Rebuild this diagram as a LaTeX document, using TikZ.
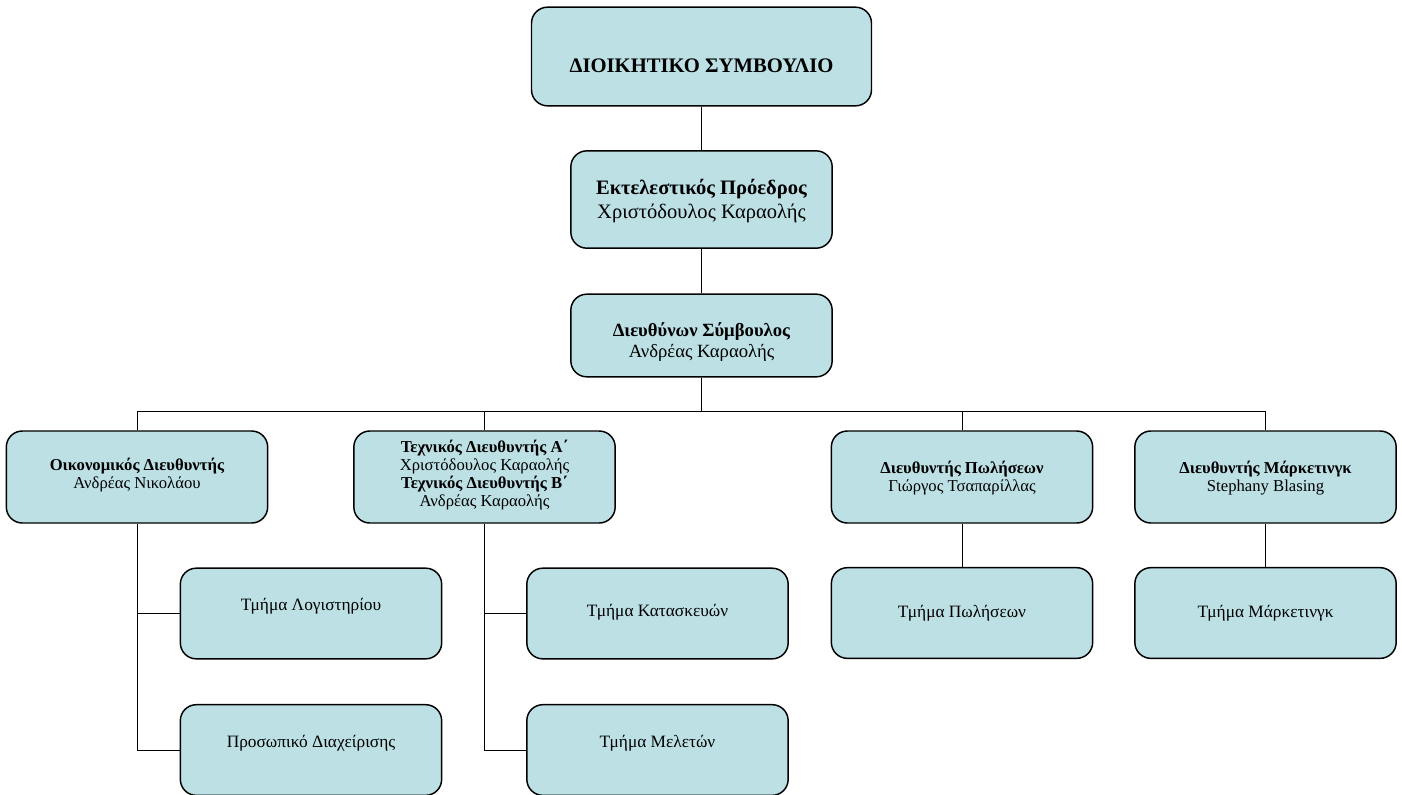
\documentclass[tikz,border=0pt]{standalone}
\usepackage{fontspec}
\setmainfont{Liberation Serif}
\definecolor{boxfill}{RGB}{188,224,228}
\tikzset{
  box/.style={draw=black, line width=1.1pt, fill=boxfill, rounded corners=12pt, inner sep=0pt},
  lvltwo/.style={box, minimum width=196pt, minimum height=69pt},
  subbox/.style={box, minimum width=196pt, minimum height=68pt},
  conn/.style={draw=black, line width=0.65pt},
  txt/.style={align=center, inner sep=0pt, text=black},
  ftop/.style={font=\fontsize{15.5}{18}\selectfont\bfseries},
  fexec/.style={font=\fontsize{15.4}{18}\selectfont},
  fceo/.style={font=\fontsize{14}{15.5}\selectfont},
  fmid/.style={font=\fontsize{12.5}{13.5}\selectfont},
  fsub/.style={font=\fontsize{13}{15}\selectfont},
}
\begin{document}
\begin{tikzpicture}[x=0.75pt, y=-0.75pt]
\useasboundingbox (0,0) rectangle (1402,794);
% boxes
\node[box, minimum width=255pt, minimum height=74pt] (top) at (701.5,56.5) {};
\node[box, minimum width=196pt, minimum height=73pt] (exec) at (701.5,199.5) {};
\node[box, minimum width=196pt, minimum height=62pt] (ceo) at (701.5,335.5) {};
\node[lvltwo] (oik) at (137,477) {};
\node[lvltwo] (tech) at (484.5,477) {};
\node[lvltwo] (pol) at (962,477) {};
\node[lvltwo] (mark) at (1265.5,477) {};
\node[subbox] (log) at (311,613.5) {};
\node[subbox] (pros) at (311,750) {};
\node[subbox] (kat) at (657.5,613.5) {};
\node[subbox] (mel) at (657.5,750) {};
\node[subbox] (polsub) at (962,613) {};
\node[subbox] (marksub) at (1265.5,613) {};
% texts
\node[txt, ftop] (ttop) at (701.5,66) {ΔΙΟΙΚΗΤΙΚΟ ΣΥΜΒΟΥΛΙΟ};
\node[txt, fexec] (texec) at (701.5,201) {\textbf{Εκτελεστικός Πρόεδρος}\\Χριστόδουλος Καραολής};
\node[txt, fceo] (tceo) at (701.5,342) {\textbf{Διευθύνων Σύμβουλος}\\Ανδρέας Καραολής};
\node[txt, fmid] (toik) at (137,475) {\textbf{Οικονομικός Διευθυντής}\\Ανδρέας Νικολάου};
\node[txt, fmid] (ttech) at (484.5,475) {\textbf{Τεχνικός Διευθυντής Α΄}\\Χριστόδουλος Καραολής\\\textbf{Τεχνικός Διευθυντής Β΄}\\Ανδρέας Καραολής};
\node[txt, fmid] (tpol) at (962,478) {\textbf{Διευθυντής Πωλήσεων}\\Γιώργος Τσαπαρίλλας};
\node[txt, fmid] (tmark) at (1265.5,478) {\textbf{Διευθυντής Μάρκετινγκ}\\Stephany Blasing};
\node[txt, fsub] (tlog) at (311,606) {Τμήμα Λογιστηρίου};
\node[txt, fsub] (tpros) at (311,743) {Προσωπικό Διαχείρισης};
\node[txt, fsub] (tkat) at (657.5,612) {Τμήμα Κατασκευών};
\node[txt, fsub] (tmel) at (657.5,743) {Τμήμα Μελετών};
\node[txt, fsub] (tpolsub) at (962,613) {Τμήμα Πωλήσεων};
\node[txt, fsub] (tmarksub) at (1265.5,613) {Τμήμα Μάρκετινγκ};
% connectors
\coordinate (bus) at (701.5,411);
\draw[conn] (top.south) -- (exec.north);
\draw[conn] (exec.south) -- (ceo.north);
\draw[conn, line width=1.3pt] (ceo.south) -- (bus);
\draw[conn] (oik.north) |- (bus) -| (mark.north);
\draw[conn] (tech.north) -- (tech.north |- bus);
\draw[conn] (pol.north) -- (pol.north |- bus);
\draw[conn] (oik.south) |- (log.west);
\draw[conn] (oik.south) |- (pros.west);
\draw[conn] (tech.south) |- (kat.west);
\draw[conn] (tech.south) |- (mel.west);
\draw[conn] (pol.south) -- (polsub.north);
\draw[conn] (mark.south) -- (marksub.north);
\end{tikzpicture}
\end{document}
